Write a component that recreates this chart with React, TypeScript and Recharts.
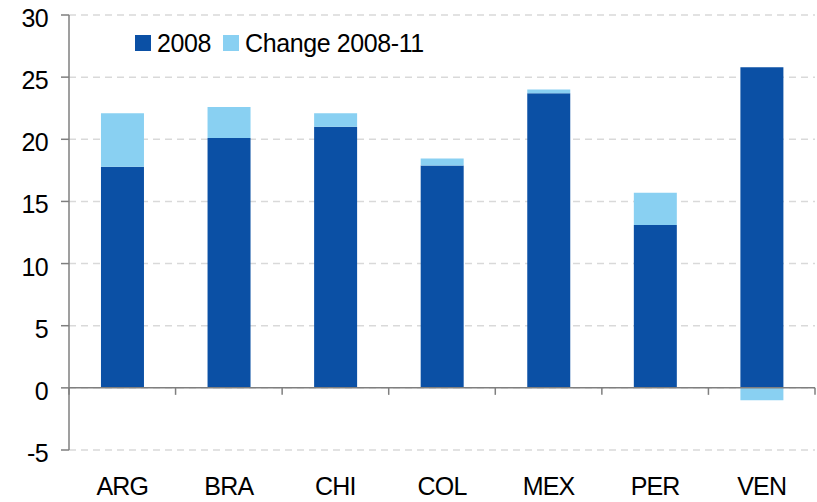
import React from 'react';
import { BarChart, Bar, XAxis, YAxis, CartesianGrid, ReferenceLine, Legend } from 'recharts';

const categories = ['ARG', 'BRA', 'CHI', 'COL', 'MEX', 'PER', 'VEN'];
const values2008 = [17.8, 20.1, 21.0, 17.9, 23.7, 13.1, 25.8];
const change0811 = [4.3, 2.5, 1.1, 0.55, 0.3, 2.6, -1.0];
const yTicks = [-5, 0, 5, 10, 15, 20, 25, 30];

const seriesNames = ['2008', 'Change 2008-11'];
const DARK = '#0B50A5';
const LIGHT = '#89D0F2';
const AXIS = '#7f7f7f';
const FONT = '"Liberation Sans", Arial, sans-serif';

const data = categories.map((c, i) => ({ name: c, v2008: values2008[i], change: change0811[i] }));

const XTick = (p: any) => (
  <text x={p.x} y={p.y} dy={37} textAnchor="middle" fontSize={25} letterSpacing={-0.8} fontFamily={FONT} fill="#000">
    {p.payload.value}
  </text>
);

const YTick = (p: any) => (
  <text x={p.x} y={p.y} dy={12} textAnchor="end" fontSize={25} letterSpacing={-0.6} fontFamily={FONT} fill="#000">
    {p.payload.value}
  </text>
);

const ZeroLine = (p: any) => {
  const { x1, y1, x2 } = p;
  const n = categories.length;
  const step = (x2 - x1) / n;
  return (
    <g>
      <line x1={x1} x2={x2} y1={y1} y2={y1} stroke={AXIS} strokeWidth={1.5} />
      {Array.from({ length: n + 1 }).map((_, i) => (
        <line key={i} x1={x1 + i * step} x2={x1 + i * step} y1={y1} y2={y1 + 7} stroke={AXIS} strokeWidth={1.5} />
      ))}
    </g>
  );
};

const LegendContent = () => (
  <div style={{ display: 'flex', alignItems: 'center', fontFamily: FONT, fontSize: 25, letterSpacing: -0.4, lineHeight: '24px', color: '#000', whiteSpace: 'nowrap' }}>
    {[DARK, LIGHT].map((col, i) => (
      <div key={i} style={{ display: 'flex', alignItems: 'center', marginRight: i === 0 ? 12 : 0 }}>
        <div style={{ width: 16, height: 16, background: col, marginRight: 6 }} />
        <span>{seriesNames[i]}</span>
      </div>
    ))}
  </div>
);

export default function App() {
  return (
    <div style={{ position: 'absolute', left: 0, top: 0, background: '#fff' }}>
      <BarChart
        width={817}
        height={502}
        data={data}
        margin={{ top: 15, right: 2, bottom: 0, left: 0 }}
        stackOffset="sign"
        barCategoryGap="30%"
      >
        <CartesianGrid vertical={false} stroke="#d9d9d9" strokeDasharray="7 5" strokeWidth={1.5} />
        <XAxis dataKey="name" axisLine={false} tickLine={false} height={52} tick={XTick} interval={0} />
        <YAxis
          domain={[-5, 30]}
          ticks={yTicks}
          width={69}
          interval={0}
          axisLine={{ stroke: AXIS, strokeWidth: 1.5 }}
          tickLine={{ stroke: AXIS, strokeWidth: 1.5 }}
          tickSize={8}
          tickMargin={13}
          tick={YTick}
        />
        <Bar dataKey="v2008" stackId="a" fill={DARK} isAnimationActive={false} />
        <Bar dataKey="change" stackId="a" fill={LIGHT} isAnimationActive={false} />
        <ReferenceLine y={0} shape={ZeroLine} />
        <Legend
          layout="horizontal"
          verticalAlign="middle"
          align="center"
          content={LegendContent}
          wrapperStyle={{ top: 31, left: 135, width: 'auto', height: 'auto' }}
        />
      </BarChart>
    </div>
  );
}
